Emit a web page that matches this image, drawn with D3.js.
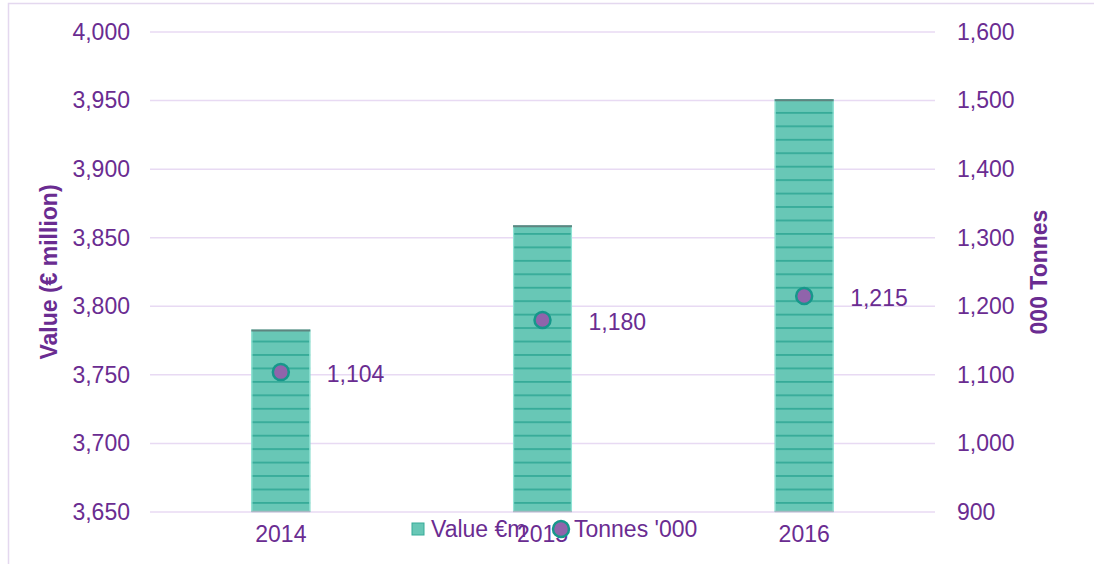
<!DOCTYPE html>
<html>
<head>
<meta charset="utf-8">
<script src="https://cdn.jsdelivr.net/npm/d3@7"></script>
<style>
  html, body { margin: 0; padding: 0; background: #fff; }
  svg { display: block; font-family: "Liberation Sans", Arial, sans-serif; }
</style>
</head>
<body>
<svg id="chart" width="1094" height="564"></svg>
<script>
const years = ["2014", "2015", "2016"];
const valueEm = [3783, 3859, 3951];
const tonnes = [1104, 1180, 1215];
const leftTicks = [3650, 3700, 3750, 3800, 3850, 3900, 3950, 4000];
const rightTicks = [900, 1000, 1100, 1200, 1300, 1400, 1500, 1600];
const legendLabels = ["Value €m", "Tonnes '000"];

const W = 1094, H = 564;
const m = { left: 150, right: 159, top: 32, bottom: 52 };
const svg = d3.select("#chart");
const textCol = "#6a2c91";
const gridCol = "#e8daf3";
const fs = 23;
const ff = "'Liberation Sans', Arial, sans-serif";

const fmt = d3.format(",");

const x = d3.scaleBand().domain(years).range([m.left, W - m.right]).paddingInner(0.775).paddingOuter(0.3875);
const yL = d3.scaleLinear().domain([3650, 4000]).range([H - m.bottom, m.top]);
const yR = d3.scaleLinear().domain([900, 1600]).range([H - m.bottom, m.top]);

// border
svg.append("rect").attr("x", 8.5).attr("y", 3.5).attr("width", 1200).attr("height", 700)
  .attr("fill", "none").attr("stroke", "#e4d8ef").attr("stroke-width", 1.5);

// pattern
const defs = svg.append("defs");
const pat = defs.append("pattern").attr("id", "stripes").attr("patternUnits", "userSpaceOnUse")
  .attr("x", 0).attr("y", yL(3650) - 10).attr("width", 10).attr("height", 13.45);
pat.append("rect").attr("width", 10).attr("height", 13.45).attr("fill", "#68c7b6");
pat.append("rect").attr("y", 0).attr("width", 10).attr("height", 1.8).attr("fill", "#36ab98");

// grid
svg.append("g").selectAll("line").data(leftTicks).join("line")
  .attr("x1", m.left).attr("x2", W - m.right)
  .attr("y1", d => yL(d)).attr("y2", d => yL(d))
  .attr("stroke", gridCol).attr("stroke-width", 1.5);

// left axis
const gl = svg.append("g").attr("transform", `translate(${m.left},0)`)
  .call(d3.axisLeft(yL).tickValues(leftTicks).tickFormat(fmt).tickSize(0).tickPadding(20));
gl.select(".domain").remove();
gl.selectAll("text").attr("fill", textCol).attr("font-size", fs).attr("font-family", ff);

// right axis
const gr = svg.append("g").attr("transform", `translate(${W - m.right},0)`)
  .call(d3.axisRight(yR).tickValues(rightTicks).tickFormat(fmt).tickSize(0).tickPadding(22));
gr.select(".domain").remove();
gr.selectAll("text").attr("fill", textCol).attr("font-size", fs).attr("font-family", ff);

// bottom axis
const gb = svg.append("g").attr("transform", `translate(0,${H - m.bottom})`)
  .call(d3.axisBottom(x).tickSize(0).tickPadding(14));
gb.select(".domain").remove();
gb.selectAll("text").attr("fill", textCol).attr("font-size", fs).attr("font-family", ff);

// bars
const bars = svg.append("g").selectAll("g").data(years).join("g");
bars.append("rect")
  .attr("x", d => x(d)).attr("width", x.bandwidth())
  .attr("y", (d, i) => yL(valueEm[i])).attr("height", (d, i) => yL(3650) - yL(valueEm[i]))
  .attr("fill", "url(#stripes)");
bars.append("line")
  .attr("x1", d => x(d) + 0.5).attr("x2", d => x(d) + 0.5)
  .attr("y1", (d, i) => yL(valueEm[i])).attr("y2", yL(3650))
  .attr("stroke", "#8fe3d4").attr("stroke-width", 1.2);
bars.append("line")
  .attr("x1", d => x(d) + x.bandwidth() - 0.5).attr("x2", d => x(d) + x.bandwidth() - 0.5)
  .attr("y1", (d, i) => yL(valueEm[i])).attr("y2", yL(3650))
  .attr("stroke", "#8fe3d4").attr("stroke-width", 1.2);
bars.append("line")
  .attr("x1", d => x(d)).attr("x2", d => x(d) + x.bandwidth())
  .attr("y1", (d, i) => yL(valueEm[i]) + 1).attr("y2", (d, i) => yL(valueEm[i]) + 1)
  .attr("stroke", "#5e8580").attr("stroke-width", 2);
bars.append("line")
  .attr("x1", d => x(d)).attr("x2", d => x(d) + x.bandwidth())
  .attr("y1", yL(3650) - 0.5).attr("y2", yL(3650) - 0.5)
  .attr("stroke", "#a9b9c3").attr("stroke-width", 1.5);

// points
const cx = d => x(d) + x.bandwidth() / 2;
svg.append("g").selectAll("circle").data(years).join("circle")
  .attr("cx", cx).attr("cy", (d, i) => yR(tonnes[i])).attr("r", 8)
  .attr("fill", "#9064ab").attr("stroke", "#16978b").attr("stroke-width", 2.5);

svg.append("g").selectAll("text").data(years).join("text")
  .attr("x", d => cx(d) + 46).attr("y", (d, i) => yR(tonnes[i]) + 2)
  .attr("dy", "0.35em")
  .attr("fill", textCol).attr("font-size", fs).attr("font-family", ff)
  .text((d, i) => fmt(tonnes[i]));

// axis titles
svg.append("text")
  .attr("transform", `translate(57,${(m.top + H - m.bottom) / 2}) rotate(-90)`)
  .attr("text-anchor", "middle").attr("fill", textCol).attr("font-size", fs).attr("font-weight", "bold")
  .attr("font-family", ff)
  .text("Value (€ million)");
svg.append("text")
  .attr("transform", `translate(1047,${(m.top + H - m.bottom) / 2}) rotate(-90)`)
  .attr("text-anchor", "middle").attr("fill", textCol).attr("font-size", fs).attr("font-weight", "bold")
  .attr("font-family", ff)
  .text("000 Tonnes");

// legend
const lg = svg.append("g").attr("transform", "translate(412,529)");
lg.append("rect").attr("x", 0).attr("y", -6).attr("width", 12).attr("height", 12)
  .attr("fill", "#68c7b6").attr("stroke", "#36ab98").attr("stroke-width", 1);
lg.append("text").attr("x", 19).attr("y", 0).attr("dy", "0.35em")
  .attr("fill", textCol).attr("font-size", fs).attr("font-family", ff).text(legendLabels[0]);
lg.append("circle").attr("cx", 149).attr("cy", 0).attr("r", 8)
  .attr("fill", "#9064ab").attr("stroke", "#16978b").attr("stroke-width", 2.5);
lg.append("text").attr("x", 162).attr("y", 0).attr("dy", "0.35em")
  .attr("fill", textCol).attr("font-size", fs).attr("font-family", ff).text(legendLabels[1]);
</script>
</body>
</html>
